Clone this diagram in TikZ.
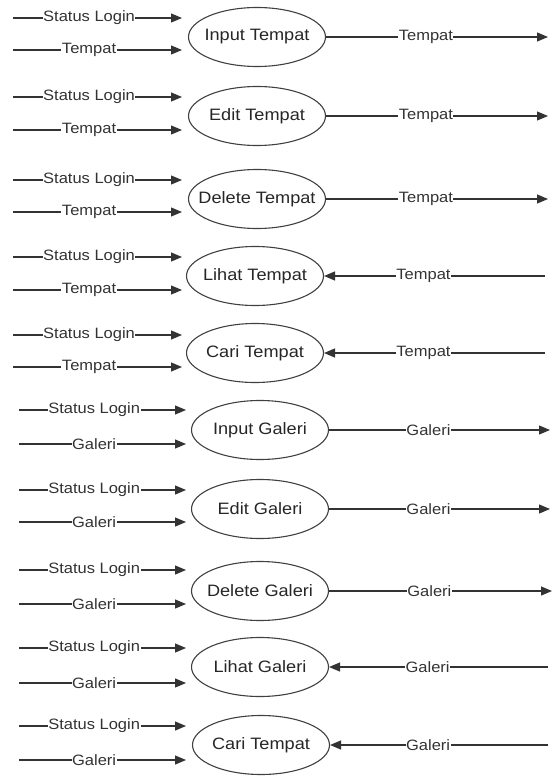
\documentclass[tikz,border=0pt]{standalone}
\usepackage{fontspec}
\setmainfont[FakeStretch=1.1]{Liberation Sans}
\usepackage{xcolor}
\usetikzlibrary{arrows.meta,shapes.geometric}
\tikzset{
  proc/.style={draw=black!75,ellipse,line width=1.1pt,minimum width=137pt,
               minimum height=59pt,inner xsep=-14pt,inner ysep=0pt,
               font=\fontsize{16.5}{19}\selectfont,text=black!85},
  sig/.style={-{Triangle[length=11pt,width=9pt]},line width=1.2pt,draw=black!80},
  lbl/.style={fill=white,inner sep=0.5pt,pos=0.45,font=\fontsize{15}{17}\selectfont,text=black!80}
}

\begin{document}
\begin{tikzpicture}[x=1pt,y=-1pt]
  \useasboundingbox (0,0) rectangle (555,778);
  % ---- Input Tempat ----
  \node[proc] (inT) at (257,37) {Input Tempat};
  \coordinate (inT-a) at (13,18);  \coordinate (inT-a') at (182,18);
  \coordinate (inT-b) at (13,50);  \coordinate (inT-b') at (182,50);
  \coordinate (inT-o) at (548,37);
  \draw[sig] (inT-a) -- node[lbl]{Status Login} (inT-a');
  \draw[sig] (inT-b) -- node[lbl]{Tempat} (inT-b');
  \draw[sig] (inT.east) -- node[lbl]{Tempat} (inT-o);
  % ---- Edit Tempat ----
  \node[proc] (edT) at (257,116) {Edit Tempat};
  \coordinate (edT-a) at (13,97);  \coordinate (edT-a') at (182,97);
  \coordinate (edT-b) at (13,130); \coordinate (edT-b') at (182,130);
  \coordinate (edT-o) at (548,116);
  \draw[sig] (edT-a) -- node[lbl]{Status Login} (edT-a');
  \draw[sig] (edT-b) -- node[lbl]{Tempat} (edT-b');
  \draw[sig] (edT.east) -- node[lbl]{Tempat} (edT-o);
  % ---- Delete Tempat ----
  \node[proc] (deT) at (257,199) {Delete Tempat};
  \coordinate (deT-a) at (13,180); \coordinate (deT-a') at (182,180);
  \coordinate (deT-b) at (13,212); \coordinate (deT-b') at (182,212);
  \coordinate (deT-o) at (548,199);
  \draw[sig] (deT-a) -- node[lbl]{Status Login} (deT-a');
  \draw[sig] (deT-b) -- node[lbl]{Tempat} (deT-b');
  \draw[sig] (deT.east) -- node[lbl]{Tempat} (deT-o);
  % ---- Lihat Tempat ----
  \node[proc] (liT) at (255,276) {Lihat Tempat};
  \coordinate (liT-a) at (13,257); \coordinate (liT-a') at (182,257);
  \coordinate (liT-b) at (13,290); \coordinate (liT-b') at (182,290);
  \coordinate (liT-o) at (545,276);
  \draw[sig] (liT-a) -- node[lbl]{Status Login} (liT-a');
  \draw[sig] (liT-b) -- node[lbl]{Tempat} (liT-b');
  \draw[sig] (liT-o) -- node[lbl,pos=0.55]{Tempat} (liT.east);
  % ---- Cari Tempat ----
  \node[proc] (caT) at (255,353) {Cari Tempat};
  \coordinate (caT-a) at (13,335); \coordinate (caT-a') at (182,335);
  \coordinate (caT-b) at (13,367); \coordinate (caT-b') at (182,367);
  \coordinate (caT-o) at (545,353);
  \draw[sig] (caT-a) -- node[lbl]{Status Login} (caT-a');
  \draw[sig] (caT-b) -- node[lbl]{Tempat} (caT-b');
  \draw[sig] (caT-o) -- node[lbl,pos=0.55]{Tempat} (caT.east);
  % ---- Input Galeri ----
  \node[proc] (inG) at (260,430) {Input Galeri};
  \coordinate (inG-a) at (19,410); \coordinate (inG-a') at (186,410);
  \coordinate (inG-b) at (19,444); \coordinate (inG-b') at (186,444);
  \coordinate (inG-o) at (550,430);
  \draw[sig] (inG-a) -- node[lbl]{Status Login} (inG-a');
  \draw[sig] (inG-b) -- node[lbl]{Galeri} (inG-b');
  \draw[sig] (inG.east) -- node[lbl]{Galeri} (inG-o);
  % ---- Edit Galeri ----
  \node[proc] (edG) at (260,509) {Edit Galeri};
  \coordinate (edG-a) at (19,490); \coordinate (edG-a') at (186,490);
  \coordinate (edG-b) at (19,522); \coordinate (edG-b') at (186,522);
  \coordinate (edG-o) at (550,509);
  \draw[sig] (edG-a) -- node[lbl]{Status Login} (edG-a');
  \draw[sig] (edG-b) -- node[lbl]{Galeri} (edG-b');
  \draw[sig] (edG.east) -- node[lbl]{Galeri} (edG-o);
  % ---- Delete Galeri ----
  \node[proc] (deG) at (260,591) {Delete Galeri};
  \coordinate (deG-a) at (19,570); \coordinate (deG-a') at (186,570);
  \coordinate (deG-b) at (19,604); \coordinate (deG-b') at (186,604);
  \coordinate (deG-o) at (552,591);
  \draw[sig] (deG-a) -- node[lbl]{Status Login} (deG-a');
  \draw[sig] (deG-b) -- node[lbl]{Galeri} (deG-b');
  \draw[sig] (deG.east) -- node[lbl]{Galeri} (deG-o);
  % ---- Lihat Galeri ----
  \node[proc] (liG) at (260,667) {Lihat Galeri};
  \coordinate (liG-a) at (19,648); \coordinate (liG-a') at (186,648);
  \coordinate (liG-b) at (19,683); \coordinate (liG-b') at (186,683);
  \coordinate (liG-o) at (548,667);
  \draw[sig] (liG-a) -- node[lbl]{Status Login} (liG-a');
  \draw[sig] (liG-b) -- node[lbl]{Galeri} (liG-b');
  \draw[sig] (liG-o) -- node[lbl,pos=0.55]{Galeri} (liG.east);
  % ---- Cari Tempat (galeri) ----
  \node[proc] (caG) at (261,745) {Cari Tempat};
  \coordinate (caG-a) at (19,726); \coordinate (caG-a') at (186,726);
  \coordinate (caG-b) at (19,760); \coordinate (caG-b') at (186,760);
  \coordinate (caG-o) at (548,745);
  \draw[sig] (caG-a) -- node[lbl]{Status Login} (caG-a');
  \draw[sig] (caG-b) -- node[lbl]{Galeri} (caG-b');
  \draw[sig] (caG-o) -- node[lbl,pos=0.55]{Galeri} (caG.east);
\end{tikzpicture}
\end{document}
